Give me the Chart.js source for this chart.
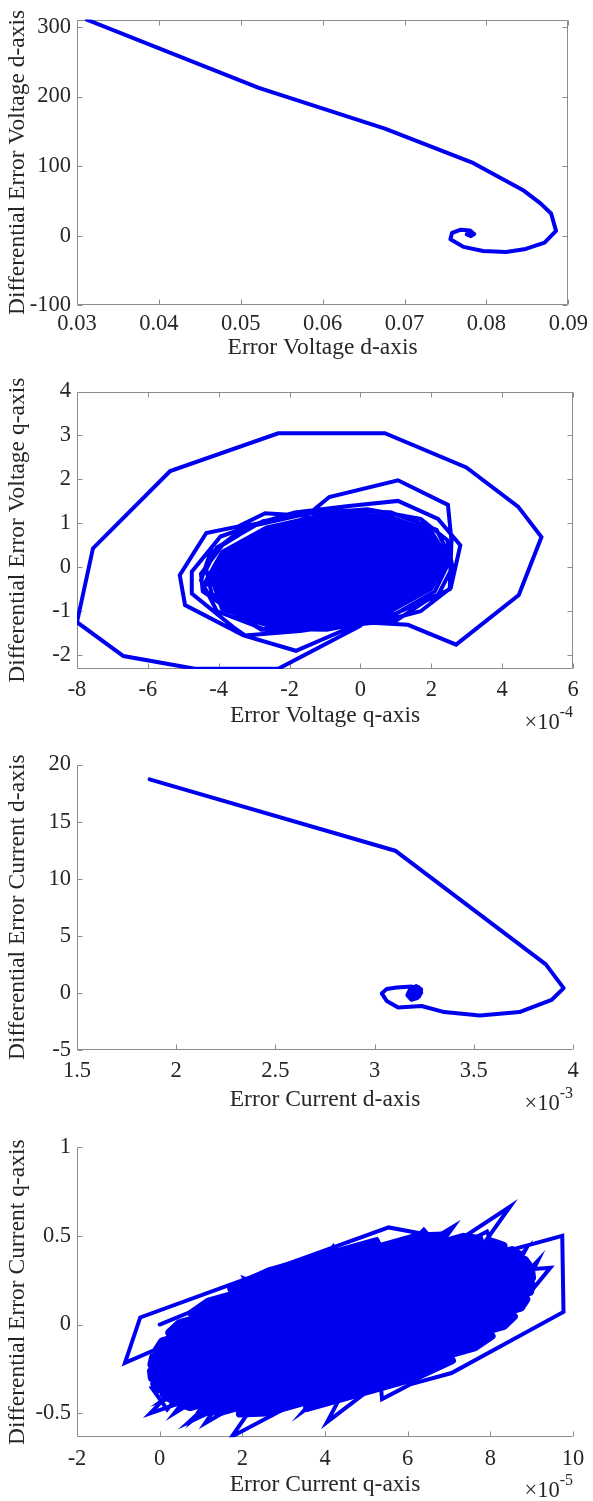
<!DOCTYPE html>
<html>
<head>
<meta charset="utf-8">
<title>Error phase portraits</title>
<script src="https://cdn.jsdelivr.net/npm/chart.js@4.4.1/dist/chart.umd.min.js"></script>
<style>
  html, body { margin: 0; padding: 0; background: #fff; }
  body { width: 593px; height: 1501px; position: relative; overflow: hidden; }
  canvas { position: absolute; left: 0; }
</style>
</head>
<body>
<canvas id="vd" width="593" height="375" style="top:0px"></canvas>
<canvas id="vq" width="593" height="378" style="top:372px"></canvas>
<canvas id="cd" width="593" height="380" style="top:745px"></canvas>
<canvas id="cq" width="593" height="376" style="top:1125px"></canvas>
<script>
// Look
const FONT = "'Liberation Serif', 'Times New Roman', serif";
const TEXT = '#262626';
const AXIS = '#8c8c8c';
const BLUE = '#0000f0';
const TICK_LEN = 5;
const TICK_SIZE = 22.5;
const TITLE_SIZE = 23.5;

// Panel 1 - voltage d-axis
const vdTicksX = [0.03, 0.04, 0.05, 0.06, 0.07, 0.08, 0.09];
const vdLabelsX = ['0.03', '0.04', '0.05', '0.06', '0.07', '0.08', '0.09'];
const vdTicksY = [-100, 0, 100, 200, 300];
const vdLabelsY = ['-100', '0', '100', '200', '300'];
const vdX = [0.0312, 0.0522, 0.0676, 0.0782, 0.0846, 0.0866, 0.0879, 0.0885, 0.0871, 0.0848, 0.0824, 0.0796, 0.0772,
  0.0756, 0.0758, 0.0768, 0.0780, 0.0785, 0.0781, 0.0776, 0.0779, 0.0784, 0.0780, 0.0777, 0.0781, 0.0779, 0.0782];
const vdY = [310.5, 212.5, 154, 105.5, 64.5, 46.5, 32, 7, -10, -19, -23.5, -22, -16,
  -5, 4, 8.5, 7.5, 2.5, -0.5, 2, 5, 3, 0, 1.5, 3, 2.5, 2];

// Panel 2 - voltage q-axis (x values in units of 1e-4)
const vqTicksX = [-8, -6, -4, -2, 0, 2, 4, 6];
const vqLabelsX = ['-8', '-6', '-4', '-2', '0', '2', '4', '6'];
const vqTicksY = [-2, -1, 0, 1, 2, 3, 4];
const vqLabelsY = ['-2', '-1', '0', '1', '2', '3', '4'];
const vqX = [0.00, -2.32, -4.67, -6.69, -8.00, -7.55, -5.37, -2.32, 0.69, 2.99, 4.45, 5.11, 4.47, 2.70, 1.34, 0.05,
  -1.82, -3.30, -4.95, -5.10, -4.35, -3.44, -2.69, -1.52, -0.88, 1.06, 2.47, 2.57, 2.52, 1.86, 1.01, -0.10,
  -1.70, -3.26, -3.59, -4.76, -4.76, -3.95, -2.90, -1.85, -0.39, 1.06, 2.19, 2.82, 2.55, 1.70, 0.50, -1.20,
  -2.80, -3.55, -4.45, -4.50, -3.90, -3.00, -1.50, 0.20, 1.70, 2.45, 2.60, 2.20, 1.00, -0.60, -2.20, -3.30,
  -4.20, -4.35, -4.05, -2.75, -0.95, 0.85, 2.15, 2.55, 2.10, 0.80, -0.95, -2.75, -4.05, -4.50, -4.25, -3.20,
  -1.60];
const vqY = [-1.33, -2.31, -2.31, -2.02, -1.25, 0.43, 2.19, 3.05, 3.05, 2.27, 1.38, 0.69, -0.63, -1.76, -1.31, -1.25,
  -1.90, -1.55, -0.86, -0.18, 0.78, 0.93, 1.23, 1.17, 1.60, 1.98, 1.42, 0.60, -0.50, -0.76, -1.21, -1.26,
  -1.45, -1.55, -1.36, -0.60, -0.10, 0.70, 1.00, 1.25, 1.39, 1.51, 1.10, 0.50, -0.47, -1.00, -1.25, -1.40,
  -1.42, -1.05, -0.55, -0.15, 0.50, 0.95, 1.22, 1.32, 1.10, 0.62, 0.00, -0.62, -1.05, -1.30, -1.38, -1.18,
  -0.60, -0.05, 0.45, 1.05, 1.30, 1.25, 0.85, 0.20, -0.55, -1.15, -1.42, -1.40, -1.00, -0.30, 0.30, 0.95,
  1.20];
// dense part of the attractor, drawn with a heavier pen
const vqCoreX = [-4.30, -3.85, -2.63, -0.95, 0.73, 1.95, 2.40, 1.95, 0.73, -0.95, -2.63, -3.85,
  -4.10, -3.68, -2.53, -0.95, 0.63, 1.78, 2.20, 1.78, 0.63, -0.95, -2.53, -3.68,
  -3.90, -3.51, -2.43, -0.95, 0.53, 1.61, 2.00, 1.61, 0.53, -0.95, -2.43, -3.51,
  -3.70, -3.33, -2.33, -0.95, 0.43, 1.43, 1.80, 1.43, 0.43, -0.95, -2.33, -3.33,
  -3.50, -3.16, -2.23, -0.95, 0.33, 1.26, 1.60, 1.26, 0.33, -0.95, -2.23, -3.16,
  -3.30, -2.99, -2.13, -0.95, 0.23, 1.09, 1.40, 1.09, 0.23, -0.95, -2.13, -2.99,
  -3.10, -2.81, -2.03, -0.95, 0.13, 0.91, 1.20, 0.91, 0.13, -0.95, -2.03, -2.81,
  -2.90, -0.95, 1.00, -0.95, -2.90, -2.60, -0.95, 0.90, -0.95, -2.60];
const vqCoreY = [-0.34, 0.31, 0.85, 1.15, 1.12, 0.77, 0.20, -0.45, -0.99, -1.29, -1.26, -0.91,
  -0.32, 0.25, 0.73, 1.00, 0.98, 0.68, 0.18, -0.39, -0.87, -1.14, -1.12, -0.82,
  -0.31, 0.18, 0.60, 0.84, 0.84, 0.59, 0.17, -0.32, -0.74, -0.98, -0.98, -0.73,
  -0.29, 0.12, 0.47, 0.69, 0.69, 0.50, 0.15, -0.26, -0.61, -0.83, -0.83, -0.64,
  -0.27, 0.05, 0.35, 0.53, 0.55, 0.41, 0.13, -0.19, -0.49, -0.67, -0.69, -0.55,
  -0.26, -0.01, 0.22, 0.38, 0.41, 0.32, 0.12, -0.13, -0.36, -0.52, -0.55, -0.46,
  -0.24, -0.07, 0.10, 0.22, 0.27, 0.22, 0.10, -0.07, -0.24, -0.36, -0.41, -0.36,
  -0.23, 0.07, 0.09, -0.21, -0.23, -0.06, 0.15, 0.16, -0.06, -0.06];

// Panel 3 - current d-axis (x values in units of 1e-3)
const cdTicksX = [1.5, 2, 2.5, 3, 3.5, 4];
const cdLabelsX = ['1.5', '2', '2.5', '3', '3.5', '4'];
const cdTicksY = [-5, 0, 5, 10, 15, 20];
const cdLabelsY = ['-5', '0', '5', '10', '15', '20'];
const cdX = [1.866, 3.104, 3.863, 3.953, 3.892, 3.730, 3.531, 3.351, 3.237, 3.119, 3.061, 3.036, 3.061,
  3.111, 3.187, 3.225, 3.235, 3.215, 3.185, 3.165, 3.180, 3.210, 3.235, 3.225, 3.195, 3.172, 3.190,
  3.222, 3.230, 3.205, 3.180, 3.185, 3.210, 3.220, 3.200, 3.215, 3.190, 3.205, 3.200];
const cdY = [18.70, 12.45, 2.50, 0.42, -0.62, -1.68, -1.97, -1.68, -1.15, -1.28, -0.70, -0.05, 0.35,
  0.48, 0.55, 0.45, 0.00, -0.45, -0.60, -0.20, 0.35, 0.60, 0.30, -0.30, -0.55, -0.10, 0.40,
  0.50, 0.00, -0.45, -0.30, 0.20, 0.35, 0.00, -0.20, 0.20, -0.15, 0.10, 0.00];

// Panel 4 - current q-axis (x values in units of 1e-5)
const cqTicksX = [-2, 0, 2, 4, 6, 8, 10];
const cqLabelsX = ['-2', '0', '2', '4', '6', '8', '10'];
const cqTicksY = [-0.5, 0, 0.5, 1];
const cqLabelsY = ['-0.5', '0', '0.5', '1'];
const cqX = [0.00, 2.20, 0.41, -0.84, -0.47, 2.31, 5.54, 6.71, 7.11, 6.55, 8.48, 7.55, 9.74, 9.77, 7.06, 6.06,
  5.38, 5.34, 4.05, 4.62, 3.48, 3.95, 1.75, 2.55, 1.10, 1.55, 0.82, 1.25, -0.23, 0.60, -0.19, 0.18,
  0.95, 2.90, 4.20, 4.50, 5.26, 5.60, 6.39, 6.90, 7.92, 8.30, 9.45, 8.50, 9.15, 8.10, 8.85, 7.40,
  3.10, 0.05, 1.30, 0.35, 2.10, 0.70, 3.20, 2.05, 4.70, 3.30];
const cqY = [0.00, 0.21, -0.09, -0.216, 0.04, 0.275, 0.547, 0.496, 0.552, 0.37, 0.665, 0.36, 0.50, 0.071, -0.273, -0.337,
  -0.42, -0.32, -0.549, -0.30, -0.487, -0.36, -0.63, -0.36, -0.556, -0.40, -0.534, -0.38, -0.50, -0.30, -0.356, -0.478,
  -0.26, 0.10, 0.44, 0.30, 0.478, 0.35, 0.534, 0.40, 0.524, 0.30, 0.32, 0.05, 0.36, 0.10, 0.42, 0.10,
  -0.20, -0.43, -0.22, -0.50, -0.25, -0.55, -0.28, 0.26, 0.02, 0.36];
const cqCoreX = [3.57, 6.16, 7.07, 2.57, 1.94, 7.62, 8.03, 1.45, 1.06, 8.33, 8.57, 0.74, 0.48, 8.74, 8.87, 0.27,
  0.10, 8.96, 9.00, -0.03, -0.13, 9.01, 8.99, -0.19, -0.21, 8.93, 8.83, -0.20, -0.16, 8.70, 8.53, -0.07,
  0.06, 8.32, 8.06, 0.23, 0.47, 7.74, 7.35, 0.77, 1.18, 6.86, 6.23, 1.73, 2.64, 5.23];
const cqCoreY = [-0.469, -0.300, -0.202, -0.496, -0.501, -0.129, -0.064, -0.494, -0.482, -0.007, 0.046, -0.465, -0.444, 0.095, 0.142, -0.420,
  -0.394, 0.184, 0.226, -0.365, -0.334, 0.263, 0.300, -0.300, -0.263, 0.334, 0.365, -0.226, -0.184, 0.394, 0.420, -0.142,
  -0.095, 0.444, 0.465, -0.046, 0.007, 0.482, 0.494, 0.064, 0.129, 0.501, 0.496, 0.202, 0.300, 0.469];

function points(xs, ys) {
  return xs.map((x, i) => ({ x: x, y: ys[i] }));
}

// MATLAB style axes: grey box / axis lines with inward ticks, plus the x10^n note
const matlabAxes = {
  id: 'matlabAxes',
  beforeDatasetsDraw(chart, args, opts) {
    const { ctx, chartArea: a, scales: { x, y } } = chart;
    const l = Math.round(a.left) + 0.5, r = Math.round(a.right) - 0.5;
    const t = Math.round(a.top) + 0.5, b = Math.round(a.bottom) - 0.5;
    ctx.save();
    ctx.strokeStyle = AXIS;
    ctx.lineWidth = 1;
    ctx.beginPath();
    ctx.moveTo(l, t); ctx.lineTo(l, b); ctx.lineTo(r, b);
    if (opts.box) { ctx.lineTo(r, t); ctx.lineTo(l, t); }
    x.ticks.forEach(tk => {
      const px = Math.round(x.getPixelForValue(tk.value)) + 0.5;
      ctx.moveTo(px, b); ctx.lineTo(px, b - TICK_LEN);
      if (opts.box) { ctx.moveTo(px, t); ctx.lineTo(px, t + TICK_LEN); }
    });
    y.ticks.forEach(tk => {
      const py = Math.round(y.getPixelForValue(tk.value)) + 0.5;
      ctx.moveTo(l, py); ctx.lineTo(l + TICK_LEN, py);
      if (opts.box) { ctx.moveTo(r, py); ctx.lineTo(r - TICK_LEN, py); }
    });
    ctx.stroke();
    ctx.restore();
  },
  afterDraw(chart, args, opts) {
    if (!opts.exp) return;
    const { ctx, chartArea: a } = chart;
    ctx.save();
    ctx.fillStyle = TEXT;
    ctx.textAlign = 'right';
    ctx.textBaseline = 'alphabetic';
    ctx.font = '16px ' + FONT;
    const supW = ctx.measureText(opts.exp).width;
    ctx.fillText(opts.exp, a.right, a.bottom + 48);
    ctx.font = '22.5px ' + FONT;
    ctx.fillText('\u00d710', a.right - supW, a.bottom + 60);
    ctx.restore();
  }
};

function panel(id, cfg) {
  const tickFont = { family: FONT, size: TICK_SIZE };
  const titleFont = { family: FONT, size: TITLE_SIZE };
  const canvas = document.getElementById(id);
  new Chart(canvas, {
    type: 'scatter',
    data: {
      datasets: cfg.series.map(s => ({
        data: points(s.x, s.y),
        showLine: true,
        borderColor: BLUE,
        borderWidth: s.width,
        borderJoinStyle: s.join || 'miter',
        borderCapStyle: 'round',
        pointRadius: 0,
        tension: 0,
        fill: false
      }))
    },
    options: {
      responsive: false,
      animation: false,
      devicePixelRatio: 1,
      events: [],
      layout: { padding: { left: 0, top: cfg.plotTop, right: canvas.width - cfg.plotRight, bottom: 0 } },
      plugins: {
        legend: { display: false },
        tooltip: { enabled: false },
        matlabAxes: { box: cfg.box, exp: cfg.exp }
      },
      scales: {
        x: {
          type: 'linear',
          min: cfg.xMin, max: cfg.xMax,
          afterBuildTicks: s => { s.ticks = cfg.xTicks.map(v => ({ value: v })); },
          afterFit: s => { s.height = canvas.height - cfg.plotBottom; },
          grid: { display: false, drawTicks: false },
          border: { display: false },
          ticks: {
            autoSkip: false, maxRotation: 0, minRotation: 0,
            padding: cfg.xPad, font: tickFont, color: TEXT,
            callback: (v, i) => cfg.xLabels[i]
          },
          title: { display: true, text: cfg.xTitle, font: titleFont, color: TEXT, padding: { top: 0, bottom: cfg.xTitlePad } }
        },
        y: {
          type: 'linear',
          min: cfg.yMin, max: cfg.yMax,
          afterBuildTicks: s => { s.ticks = cfg.yTicks.map(v => ({ value: v })); },
          afterFit: s => { s.width = cfg.plotLeft; },
          grid: { display: false, drawTicks: false },
          border: { display: false },
          ticks: {
            autoSkip: false, padding: 6, font: tickFont, color: TEXT,
            callback: (v, i) => cfg.yLabels[i]
          },
          title: { display: true, text: cfg.yTitle, font: titleFont, color: TEXT, padding: { top: 4, bottom: 0 } }
        }
      }
    },
    plugins: [matlabAxes]
  });
}

panel('vd', {
  plotLeft: 77, plotRight: 572.5, plotTop: 14, plotBottom: 305.3,
  xMin: 0.03, xMax: 0.09, yMin: -100, yMax: 310.8,
  xTicks: vdTicksX, xLabels: vdLabelsX, yTicks: vdTicksY, yLabels: vdLabelsY,
  xTitle: 'Error Voltage d-axis', yTitle: 'Differential Error Voltage d-axis',
  xPad: 5, xTitlePad: 13, box: true, exp: null,
  series: [{ x: vdX, y: vdY, width: 4, join: 'round' }]
});

panel('vq', {
  plotLeft: 77, plotRight: 573, plotTop: 16.3, plotBottom: 297,
  xMin: -8, xMax: 6, yMin: -2.315, yMax: 4,
  xTicks: vqTicksX, xLabels: vqLabelsX, yTicks: vqTicksY, yLabels: vqLabelsY,
  xTitle: 'Error Voltage q-axis', yTitle: 'Differential Error Voltage q-axis',
  xPad: 8, xTitlePad: 20.5, box: true, exp: '-4',
  series: [{ x: vqX, y: vqY, width: 4 }, { x: vqCoreX, y: vqCoreY, width: 9, join: 'round' }]
});

panel('cd', {
  plotLeft: 77, plotRight: 573, plotTop: 16, plotBottom: 305,
  xMin: 1.5, xMax: 4, yMin: -5, yMax: 20,
  xTicks: cdTicksX, xLabels: cdLabelsX, yTicks: cdTicksY, yLabels: cdLabelsY,
  xTitle: 'Error Current d-axis', yTitle: 'Differential Error Current d-axis',
  xPad: 7.5, xTitlePad: 11.5, box: false, exp: '-3',
  series: [{ x: cdX, y: cdY, width: 4, join: 'round' }]
});

panel('cq', {
  plotLeft: 77, plotRight: 573, plotTop: 22, plotBottom: 312.3,
  xMin: -2, xMax: 10, yMin: -0.635, yMax: 1,
  xTicks: cqTicksX, xLabels: cqLabelsX, yTicks: cqTicksY, yLabels: cqLabelsY,
  xTitle: 'Error Current q-axis', yTitle: 'Differential Error Current q-axis',
  xPad: 8.5, xTitlePad: 2.5, box: false, exp: '-5',
  series: [{ x: cqX, y: cqY, width: 4 }, { x: cqCoreX, y: cqCoreY, width: 8, join: 'round' }]
});
</script>
</body>
</html>
